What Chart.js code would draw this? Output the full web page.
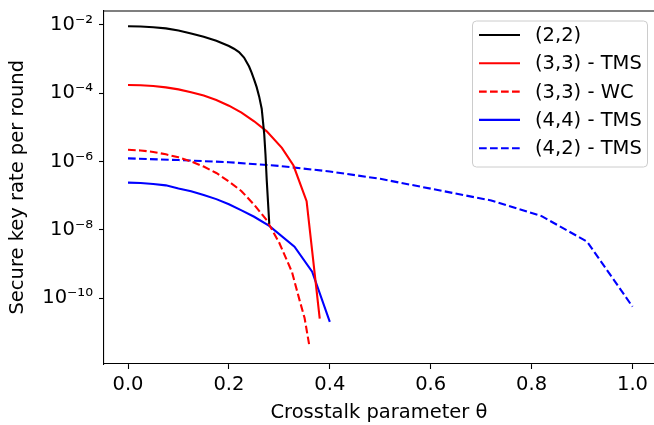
<!DOCTYPE html>
<html>
<head>
<meta charset="utf-8">
<script src="https://cdn.jsdelivr.net/npm/chart.js@4.4.1/dist/chart.umd.min.js"></script>
<style>
  html, body { margin: 0; padding: 0; background: #fff; }
  #wrap { width: 654px; height: 425px; }
</style>
</head>
<body>
<div id="wrap"><canvas id="c" width="654" height="425"></canvas></div>
<script>
// values (θ, secure key rate per round)
const theta22 = [0, 0.025, 0.05, 0.075, 0.1, 0.125, 0.15, 0.175, 0.2, 0.21, 0.22, 0.23, 0.24, 0.245, 0.25, 0.255, 0.26, 0.265, 0.27, 0.2725, 0.275, 0.28];
const rate22  = [9.1e-3, 8.9e-3, 8.5e-3, 7.9e-3, 6.8e-3, 5.6e-3, 4.5e-3, 3.4e-3, 2.4e-3, 2.0e-3, 1.6e-3, 1.1e-3, 6.0e-4, 4.0e-4, 2.5e-4, 1.5e-4, 7.9e-5, 3.5e-5, 6.3e-6, 1.6e-6, 2.8e-7, 1.5e-8];

const theta33tms = [0, 0.025, 0.05, 0.075, 0.1, 0.125, 0.15, 0.175, 0.2, 0.225, 0.25, 0.275, 0.305, 0.328, 0.354, 0.38];
const rate33tms  = [1.74e-4, 1.7e-4, 1.62e-4, 1.48e-4, 1.29e-4, 1.07e-4, 8.5e-5, 6.3e-5, 4.3e-5, 2.7e-5, 1.5e-5, 7.6e-6, 2.5e-6, 7.6e-7, 6.9e-8, 2.5e-11];

const theta33wc = [0, 0.025, 0.05, 0.075, 0.1, 0.125, 0.15, 0.175, 0.2, 0.225, 0.25, 0.275, 0.3, 0.325, 0.34, 0.35, 0.36];
const rate33wc  = [2.2e-6, 2.1e-6, 1.9e-6, 1.62e-6, 1.32e-6, 1.0e-6, 7.1e-7, 4.6e-7, 2.6e-7, 1.35e-7, 5.4e-8, 1.9e-8, 4.1e-9, 5.8e-10, 8.7e-11, 2.6e-11, 3.6e-12];

const theta44 = [0, 0.025, 0.05, 0.075, 0.1, 0.125, 0.15, 0.175, 0.2, 0.225, 0.25, 0.28, 0.33, 0.365, 0.4];
const rate44  = [2.4e-7, 2.35e-7, 2.2e-7, 2.0e-7, 1.62e-7, 1.35e-7, 1.05e-7, 7.9e-8, 5.6e-8, 3.7e-8, 2.4e-8, 1.3e-8, 3.2e-9, 5.9e-10, 2.0e-11];

const theta42 = [0, 0.1, 0.2, 0.3, 0.4, 0.5, 0.6, 0.72, 0.82, 0.91, 1.0];
const rate42  = [1.23e-6, 1.1e-6, 9.5e-7, 7.4e-7, 5.1e-7, 3.1e-7, 1.6e-7, 7.2e-8, 2.5e-8, 4.5e-9, 5.6e-11];

const xTicks = [0, 0.2, 0.4, 0.6, 0.8, 1.0];
const yTicks = [1e-2, 1e-4, 1e-6, 1e-8, 1e-10];

const FONT = 'DejaVu Sans';
const DASH = [7.7, 3.3];

function pts(xs, ys) {
  return xs.map((x, i) => ({ x, y: ys[i] }));
}

const SUP = { '0':'⁰','1':'¹','2':'²','3':'³','4':'⁴','5':'⁵','6':'⁶','7':'⁷','8':'⁸','9':'⁹','-':'⁻' };
function powLabel(v) {
  const e = String(Math.round(Math.log10(v)));
  return '10' + e.split('').map(ch => SUP[ch]).join('');
}

function line(label, xs, ys, color, dashed) {
  return {
    label,
    data: pts(xs, ys),
    borderColor: color,
    backgroundColor: color,
    borderWidth: 2.1,
    borderDash: dashed ? DASH : [],
    pointRadius: 0,
    fill: false,
    tension: 0
  };
}

// matplotlib-ish legend box in the upper right + top spine
const framePlugin = {
  id: 'frame',
  afterDatasetsDraw(chart) {
    const { ctx, chartArea } = chart;
    ctx.save();
    ctx.strokeStyle = '#000';
    ctx.lineWidth = 1.1;
    ctx.beginPath();
    ctx.moveTo(chartArea.left, chartArea.top + 0.5);
    ctx.lineTo(chartArea.right, chartArea.top + 0.5);
    ctx.stroke();

    // legend
    const bx = 472, by = 20.5, bw = 175, bh = 146, r = 4;
    ctx.fillStyle = 'rgba(255,255,255,0.8)';
    ctx.strokeStyle = '#cccccc';
    ctx.lineWidth = 1;
    ctx.beginPath();
    ctx.roundRect(bx + 0.5, by + 0.5, bw, bh, r);
    ctx.fill();
    ctx.stroke();

    ctx.font = '19.5px ' + FONT;
    ctx.textBaseline = 'middle';
    ctx.textAlign = 'left';
    chart.data.datasets.forEach((ds, i) => {
      const y = 35 + i * 28.3;
      ctx.strokeStyle = ds.borderColor;
      ctx.lineWidth = 2.1;
      ctx.setLineDash(ds.borderDash || []);
      ctx.beginPath();
      ctx.moveTo(479, y);
      ctx.lineTo(520, y);
      ctx.stroke();
      ctx.setLineDash([]);
      ctx.fillStyle = '#000';
      ctx.fillText(ds.label, 535, y + 1);
    });
    ctx.restore();
  }
};

new Chart(document.getElementById('c'), {
  type: 'line',
  data: {
    datasets: [
      line('(2,2)', theta22, rate22, '#000000', false),
      line('(3,3) - TMS', theta33tms, rate33tms, '#ff0000', false),
      line('(3,3) - WC', theta33wc, rate33wc, '#ff0000', true),
      line('(4,4) - TMS', theta44, rate44, '#0000ff', false),
      line('(4,2) - TMS', theta42, rate42, '#0000ff', true)
    ]
  },
  options: {
    responsive: false,
    animation: false,
    layout: { padding: { top: 10.5, right: 0, left: 0, bottom: 0 } },
    plugins: {
      legend: { display: false },
      tooltip: { enabled: false }
    },
    scales: {
      x: {
        type: 'linear',
        min: -0.0476,
        max: 1.0426,
        afterBuildTicks: s => { s.ticks = xTicks.map(v => ({ value: v })); },
        afterFit: s => { s.height = 61; s.paddingLeft = 0; s.paddingRight = 0; },
        grid: { drawOnChartArea: false, drawTicks: true, tickLength: 5, tickColor: '#000', tickWidth: 1.1 },
        border: { display: true, color: '#000', width: 1.1 },
        ticks: {
          color: '#000',
          padding: 4,
          maxRotation: 0,
          font: { family: FONT, size: 19.5 },
          callback: v => v.toFixed(1)
        },
        title: {
          display: true,
          text: 'Crosstalk parameter θ',
          color: '#000',
          font: { family: FONT, size: 19.5 },
          padding: { top: 2, bottom: 0 }
        }
      },
      y: {
        type: 'logarithmic',
        min: Math.pow(10, -11.93),
        max: Math.pow(10, -1.58),
        afterBuildTicks: s => { s.ticks = yTicks.map(v => ({ value: v })); },
        afterFit: s => { s.width = 104; s.paddingTop = 0; s.paddingBottom = 0; },
        grid: { drawOnChartArea: false, drawTicks: true, tickLength: 5, tickColor: '#000', tickWidth: 1.1 },
        border: { display: true, color: '#000', width: 1.1 },
        ticks: {
          color: '#000',
          padding: 6,
          font: { family: FONT, size: 19.5 },
          callback: v => powLabel(v)
        },
        title: {
          display: true,
          text: 'Secure key rate per round',
          color: '#000',
          font: { family: FONT, size: 19.5 },
          padding: { top: 6, bottom: 0 }
        }
      }
    }
  },
  plugins: [framePlugin]
});
</script>
</body>
</html>
